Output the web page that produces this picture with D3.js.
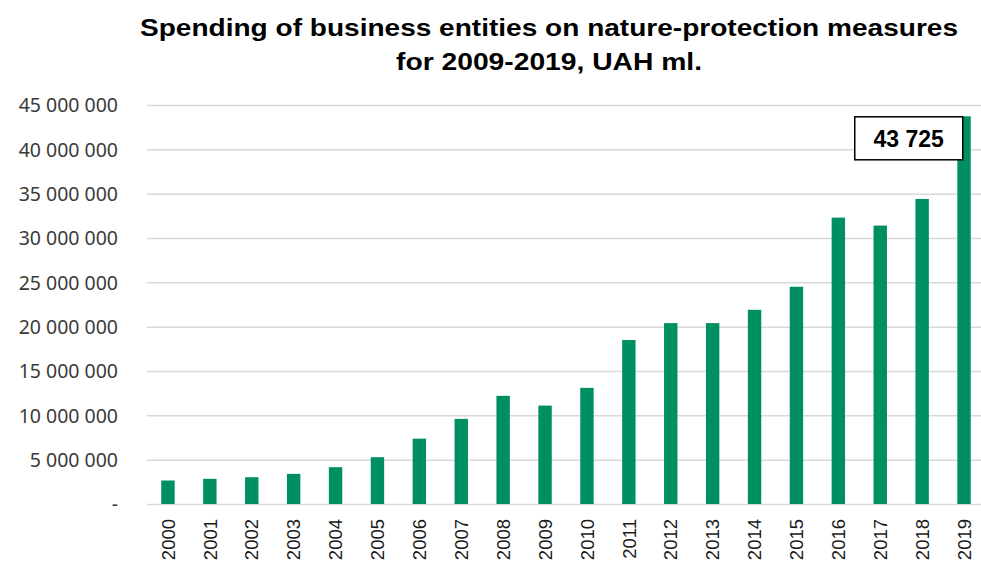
<!DOCTYPE html>
<html>
<head>
<meta charset="utf-8">
<script src="https://cdn.jsdelivr.net/npm/d3@7"></script>
<style>
  body { margin: 0; background: #fff; }
  svg { display: block; }
</style>
</head>
<body>
<div class="chart-div"></div>
<script>
// values
var years = ['2000','2001','2002','2003','2004','2005','2006','2007','2008','2009',
             '2010','2011','2012','2013','2014','2015','2016','2017','2018','2019'];
var spending = [2650000, 2840000, 3020000, 3400000, 4150000, 5280000, 7370000, 9600000,
                12200000, 11100000, 13100000, 18500000, 20400000, 20400000, 21900000,
                24500000, 32300000, 31400000, 34400000, 43725000];
var y_ticks = [0, 5000000, 10000000, 15000000, 20000000, 25000000, 30000000,
               35000000, 40000000, 45000000];
var title_lines = ['Spending of business entities on nature-protection measures',
                   'for 2009-2019, UAH ml.'];
var callout_text = '43 725';

function draw_chart() {
  var w = 981,
      h = 565,
      plot_left = 147,
      plot_right = 985,
      plot_top = 105,
      plot_bottom = 504,
      bar_colour = '#008f63',
      grid_colour = '#d9d9d9';

  var svg = d3.select('.chart-div')
    .append('svg')
    .attr('width', w)
    .attr('height', h);

  var x = d3.scaleBand()
    .domain(years)
    .range([plot_left, plot_right])
    .paddingInner(0.68)
    .paddingOuter(0.34);

  var y = d3.scaleLinear()
    .domain([0, 45000000])
    .range([plot_bottom, plot_top]);

  var fmt = function(v) {
    if (v === 0) return '-';
    return d3.format(',')(v).replace(/,/g, ' ');
  };

  // gridlines + y labels
  var grid = svg.append('g')
    .attr('transform', 'translate(' + plot_left + ',0)')
    .call(d3.axisLeft(y).tickValues(y_ticks).tickSize(-(w - plot_left)).tickFormat(fmt));
  grid.select('.domain').remove();
  grid.selectAll('.tick line')
    .attr('stroke', grid_colour)
    .attr('stroke-width', 1.5);
  grid.selectAll('.tick text')
    .attr('x', -29)
    .attr('dy', '0.35em')
    .style('font-family', '"Noto Sans", sans-serif')
    .style('font-size', '19.5px')
    .attr('fill', '#3a3a3a');

  // bars
  svg.append('g').selectAll('rect')
    .data(years)
    .join('rect')
    .attr('x', function(d) { return x(d); })
    .attr('y', function(d, i) { return y(spending[i]); })
    .attr('width', x.bandwidth())
    .attr('height', function(d, i) { return y(0) - y(spending[i]); })
    .attr('fill', bar_colour);

  // x labels, rotated
  var xa = svg.append('g')
    .attr('transform', 'translate(0,' + plot_bottom + ')')
    .call(d3.axisBottom(x).tickSize(0));
  xa.select('.domain').remove();
  xa.selectAll('.tick text')
    .attr('transform', 'rotate(-90)')
    .attr('x', -15)
    .attr('y', 0)
    .attr('dy', '0.36em')
    .attr('text-anchor', 'end')
    .style('font-family', '"Liberation Sans", Arial, sans-serif')
    .style('font-size', '18.5px')
    .attr('fill', '#1a1a1a');

  // title
  svg.append('g').selectAll('text')
    .data(title_lines)
    .join('text')
    .attr('x', 549)
    .attr('y', function(d, i) { return 35.5 + i * 34.5; })
    .attr('text-anchor', 'middle')
    .attr('textLength', function(d, i) { return i === 0 ? 818 : 306; })
    .attr('lengthAdjust', 'spacingAndGlyphs')
    .style('font-family', '"Liberation Sans", Arial, sans-serif')
    .style('font-weight', 'bold')
    .style('font-size', '24px')
    .attr('fill', '#000')
    .text(function(d) { return d; });

  // callout box for the last bar
  var last = years.length - 1,
      box_w = 108,
      box_h = 43,
      box_x = x(years[last]) + x.bandwidth() - box_w - 8,
      box_y = y(spending[last]) + 0.5;

  svg.append('rect')
    .attr('x', box_x)
    .attr('y', box_y)
    .attr('width', box_w)
    .attr('height', box_h)
    .attr('fill', '#fff')
    .attr('stroke', '#000')
    .attr('stroke-width', 1.5);

  svg.append('text')
    .attr('x', box_x + box_w / 2)
    .attr('y', box_y + box_h / 2)
    .attr('dy', '0.36em')
    .attr('text-anchor', 'middle')
    .style('font-family', '"Liberation Sans", Arial, sans-serif')
    .style('font-weight', 'bold')
    .style('font-size', '23px')
    .attr('fill', '#000')
    .text(callout_text);
}

draw_chart();
</script>
</body>
</html>
